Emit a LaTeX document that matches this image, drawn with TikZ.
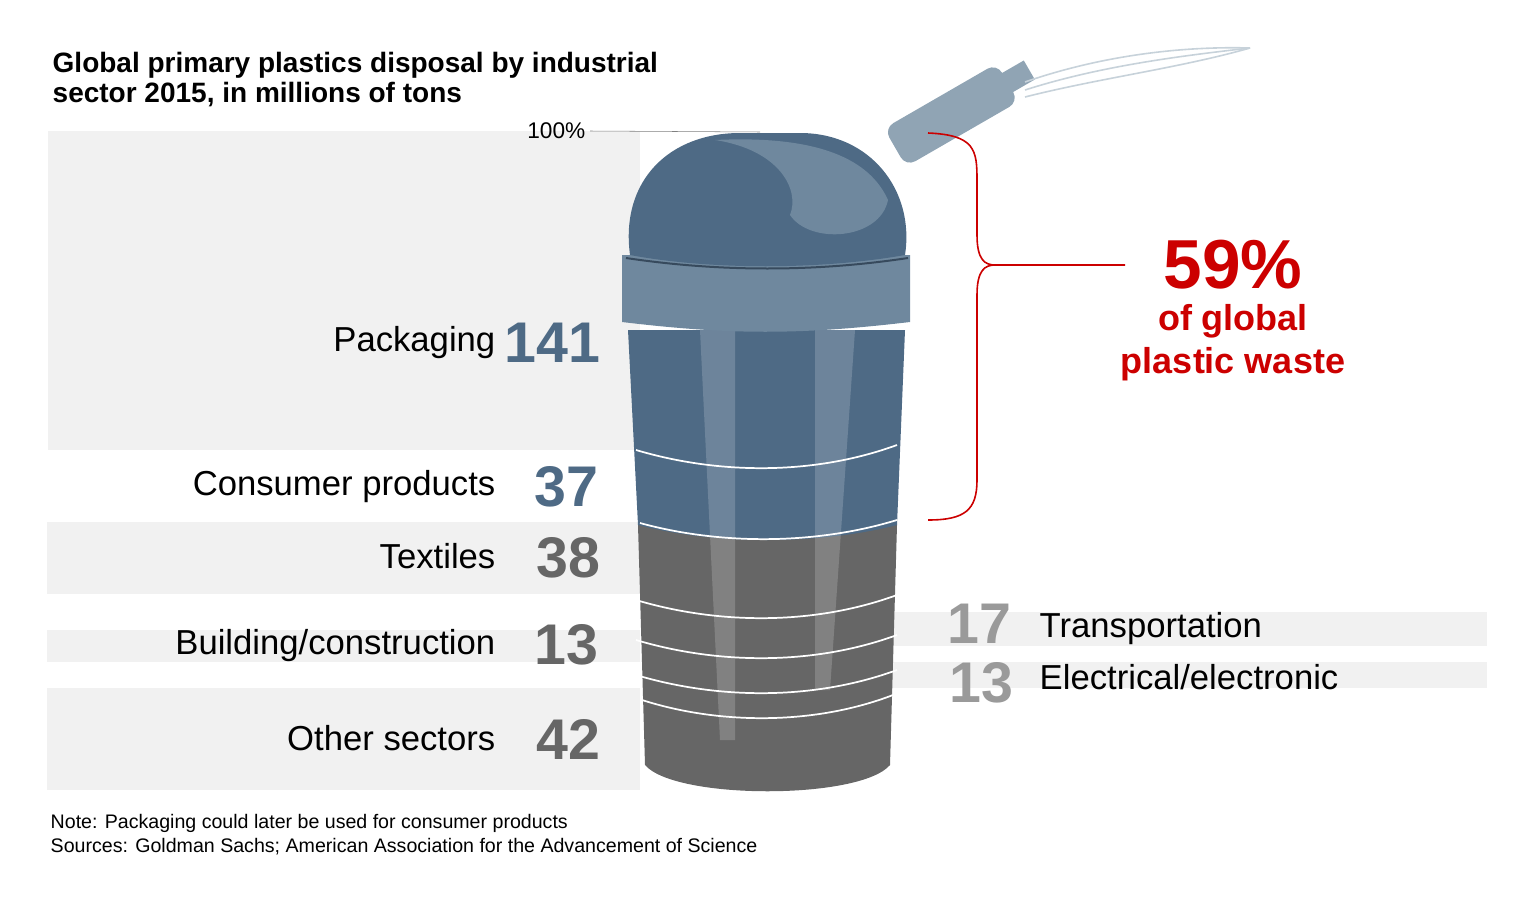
\documentclass[tikz,border=0pt]{standalone}
\usepackage{fontspec}
\setmainfont{Liberation Sans}
\usetikzlibrary{positioning}
\definecolor{bandgray}{HTML}{F1F1F1}
\definecolor{binblue}{HTML}{4E6A85}
\definecolor{lidblue}{HTML}{6F889E}
\definecolor{bingray}{HTML}{666666}
\definecolor{numblue}{HTML}{4E6A85}
\definecolor{numgray}{HTML}{666666}
\definecolor{lightnum}{HTML}{9A9A9A}
\definecolor{wasteRed}{HTML}{CC0000}
\definecolor{bottle}{HTML}{90A4B4}
\tikzset{
  band/.style={fill=bandgray,draw=none},
  sector/.style={anchor=east,font=\fontsize{26}{26}\selectfont},
  amount/.style={anchor=east,font=\fontsize{43}{43}\selectfont\bfseries},
  rsector/.style={anchor=west,font=\fontsize{26}{26}\selectfont},
  ramount/.style={anchor=east,font=\fontsize{43}{43}\selectfont\bfseries,text=lightnum},
  ring/.style={white,line width=1.3pt}
}
\begin{document}
\begin{tikzpicture}[x=0.75pt,y=-0.75pt]
\useasboundingbox (0,0) rectangle (1534,906);
% background bands
\fill[band] (48,131) rectangle (640,450);
\fill[band] (47,522) rectangle (640,594);
\fill[band] (47,630) rectangle (640,662);
\fill[band] (47,688) rectangle (640,790);
\fill[band] (890,612) rectangle (1487,646);
\fill[band] (890,662) rectangle (1487,688);
% title
\node[anchor=north west,align=left,font=\fontsize{21}{22.5}\selectfont\bfseries] (title) at (48,48)
  {Global primary plastics disposal by industrial\\sector 2015, in millions of tons};
% bin body
\fill[bingray] (638,525) -- (897,525) -- (890,765) .. controls (860,800) and (675,800) .. (645,765) -- cycle;
\fill[binblue] (628,330) -- (905,330) -- (897,525) .. controls (820,545) and (715,545) .. (638,525) -- cycle;
\fill[white,opacity=0.18] (700,330) -- (735,330) -- (735,740) -- (720,740) -- cycle;
\fill[white,opacity=0.18] (815,330) -- (855,330) -- (830,690) -- (815,690) -- cycle;
\foreach \y in {450,600,640,675}
  \draw[ring] (636,\y) .. controls (720,\y+25) and (815,\y+25) .. (897,\y-5);
\draw[ring] (640,523) .. controls (720,545) and (815,545) .. (897,520);
\draw[ring] (642,700) .. controls (720,725) and (815,725) .. (893,695);
% lid
\fill[lidblue] (622,255) -- (910,255) -- (910,322) .. controls (800,335) and (730,335) .. (622,322) -- cycle;
\fill[binblue] (630,255) .. controls (620,180) and (670,133) .. (740,133) -- (800,133)
  .. controls (870,133) and (915,190) .. (905,255) .. controls (820,270) and (710,270) .. (630,255) -- cycle;
\fill[lidblue] (715,140) .. controls (780,150) and (800,190) .. (790,215)
  .. controls (810,245) and (880,240) .. (888,200) .. controls (870,160) and (820,135) .. (715,140) -- cycle;
\draw[binblue!70!black,line width=1.5pt] (626,258) .. controls (720,272) and (815,272) .. (908,258);
% labels left
\node[amount,text=numblue] (n141) at (605,343) {141};
\node[sector] (packaging) at (500,343) {Packaging};
\node[amount,text=numblue] (n37) at (603,487) {37};
\node[sector] (consumer) at (500,487) {Consumer products};
\node[amount,text=numgray] (n38) at (605,558) {38};
\node[sector] (textiles) at (500,556) {Textiles};
\node[amount,text=numgray] (n13a) at (603,645) {13};
\node[sector] (building) at (500,646) {Building/construction};
\node[amount,text=numgray] (n42) at (605,739) {42};
\node[sector] (other) at (500,738) {Other sectors};
% labels right
\node[ramount] (n17) at (1016,624) {17};
\node[rsector] (transport) at (1035,629) {Transportation};
\node[ramount] (n13b) at (1018,683) {13};
\node[rsector] (electric) at (1035,677) {Electrical/electronic};
% 100% marker
\node[anchor=east,font=\fontsize{17}{17}\selectfont] (full) at (590,131) {100\%};
\coordinate (lidtop) at (760,132);
\draw[gray] (full.east) -- (lidtop);
% bottle and motion lines
\fill[bottle,rounded corners=8pt,rotate around={30:(960,110)}] (885,88) rectangle (1015,132);
\fill[bottle,rotate around={30:(960,110)}] (1012,99) rectangle (1040,121);
\foreach \a/\b in {82/48,90/58,97/70}
  \draw[bottle!50,line width=1.2pt] (1025,\a) .. controls (1100,\b+8) and (1180,\b-2) .. (1250,48);
% bracket
\coordinate (brtop) at (928,133);
\coordinate (brbot) at (928,520);
\coordinate (brtip) at (1125,265);
\draw[wasteRed,line width=1.2pt] (brtop) .. controls (975,135) and (977,150) .. (977,180) -- (977,235)
  .. controls (977,260) and (985,265) .. (995,265) -- (brtip);
\draw[wasteRed,line width=1.2pt] (995,265) .. controls (985,265) and (977,270) .. (977,295) -- (977,480)
  .. controls (977,510) and (965,520) .. (brbot);
\node[text=wasteRed,font=\fontsize{52}{52}\selectfont\bfseries] (pct) at (1233,265) {59\%};
\node[text=wasteRed,font=\fontsize{27}{32}\selectfont\bfseries,align=center,anchor=north] (waste) at (1233,300) {of global\\plastic waste};
% notes
\node[anchor=north west,align=left,font=\fontsize{14.7}{18}\selectfont] (note) at (46,810)
  {Note: Packaging could later be used for consumer products\\Sources: Goldman Sachs; American Association for the Advancement of Science};
\end{tikzpicture}
\end{document}
